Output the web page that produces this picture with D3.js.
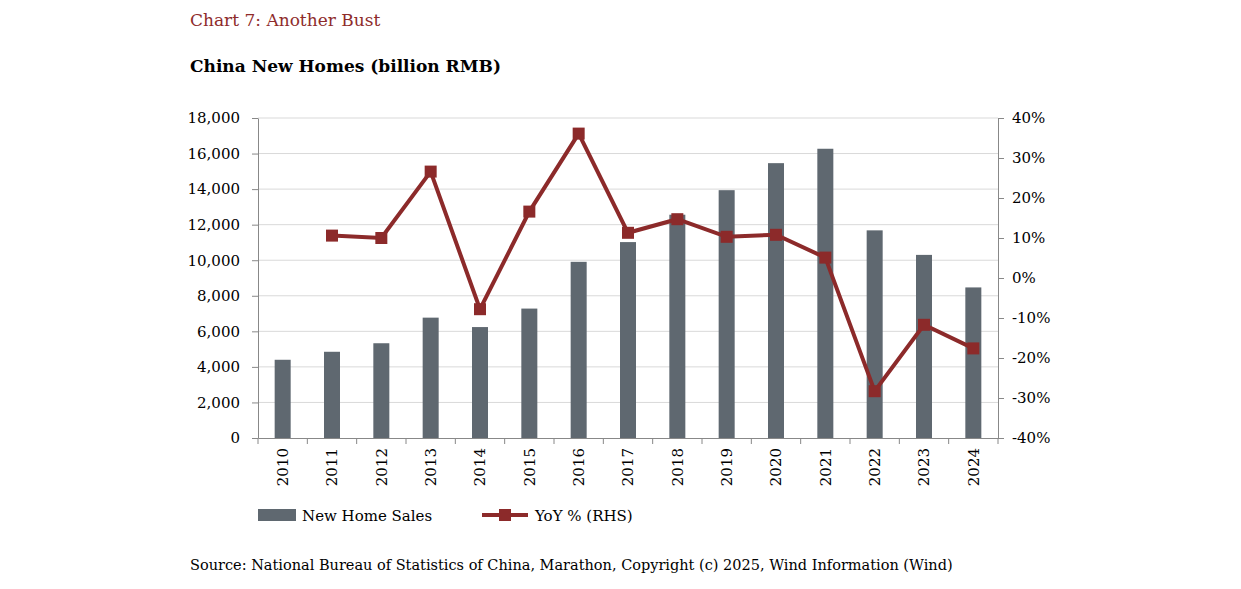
<!DOCTYPE html><html><head><meta charset="utf-8"><script src="https://cdn.jsdelivr.net/npm/d3@7"></script>
<style>body{margin:0;background:#fff}text{font-family:"DejaVu Serif",serif}</style></head><body>
<svg id="c" width="1241" height="589"></svg>
<script>
const years=["2010","2011","2012","2013","2014","2015","2016","2017","2018","2019","2020","2021","2022","2023","2024"];
const sales=[4400,4850,5330,6770,6240,7280,9910,11020,12560,13940,15460,16270,11680,10300,8470];
const yoy=[null,10.6,10.0,26.6,-7.8,16.6,36.1,11.3,14.7,10.3,10.8,5.1,-28.3,-11.7,-17.6];
const leftTicks=[0,2000,4000,6000,8000,10000,12000,14000,16000,18000];
const rightTicks=[-40,-30,-20,-10,0,10,20,30,40];
const svg=d3.select("#c");
const L=258,R=998,T=118,B=438;
const x=d3.scaleBand().domain(years).range([L,R]);
const y=d3.scaleLinear().domain([0,18000]).range([B,T]);
const y2=d3.scaleLinear().domain([-40,40]).range([B,T]);
const red="#8c2a2a",gray="#5f6870";
svg.append("text").attr("x",190).attr("y",26).attr("fill","#8e2b2b").attr("font-size",17).text("Chart 7: Another Bust");
svg.append("text").attr("x",190).attr("y",72).attr("font-size",17).attr("font-weight","bold").text("China New Homes (billion RMB)");
svg.append("g").selectAll("line").data(leftTicks.slice(1)).join("line").attr("x1",L).attr("x2",R).attr("y1",d=>y(d)).attr("y2",d=>y(d)).attr("stroke","#d9d9d9");
svg.append("g").selectAll("rect").data(sales).join("rect").attr("x",(d,i)=>x(years[i])+x.bandwidth()/2-8).attr("width",16).attr("y",d=>y(d)).attr("height",d=>B-y(d)).attr("fill",gray);
const ax=svg.append("g").attr("transform",`translate(${L},0)`).call(d3.axisLeft(y).tickValues(leftTicks).tickFormat(d3.format(",")).tickSizeOuter(0).tickPadding(12));
const ax2=svg.append("g").attr("transform",`translate(${R},0)`).call(d3.axisRight(y2).tickValues(rightTicks).tickFormat(d=>d+"%").tickSizeOuter(0).tickPadding(8));
const bx=svg.append("g").attr("transform",`translate(0,${B})`).call(d3.axisBottom(x).tickSize(0).tickSizeOuter(0));
[ax,ax2,bx].forEach(g=>{g.selectAll("text").attr("font-size",15).attr("fill","#000").style("font-family","DejaVu Serif");g.selectAll("line,path").attr("stroke","#888");});
bx.selectAll("text").attr("transform","rotate(-90)").attr("text-anchor","end").attr("x",-10).attr("y",0).attr("dy","0.35em");
svg.append("g").selectAll("line").data(years.concat(["end"])).join("line").attr("x1",(d,i)=>L+i*x.bandwidth()).attr("x2",(d,i)=>L+i*x.bandwidth()).attr("y1",B).attr("y2",B+6).attr("stroke","#888");
const pts=yoy.map((v,i)=>[v,i]).filter(d=>d[0]!==null);
svg.append("path").datum(pts).attr("fill","none").attr("stroke",red).attr("stroke-width",4).attr("d",d3.line().x(d=>x(years[d[1]])+x.bandwidth()/2).y(d=>y2(d[0])));
svg.append("g").selectAll("rect").data(pts).join("rect").attr("x",d=>x(years[d[1]])+x.bandwidth()/2-6).attr("y",d=>y2(d[0])-6).attr("width",12).attr("height",12).attr("fill",red);
svg.append("rect").attr("x",258).attr("y",509).attr("width",38).attr("height",12).attr("fill",gray);
svg.append("text").attr("x",302).attr("y",521).attr("font-size",15).text("New Home Sales");
svg.append("line").attr("x1",482).attr("x2",528).attr("y1",515).attr("y2",515).attr("stroke",red).attr("stroke-width",4);
svg.append("rect").attr("x",499).attr("y",509).attr("width",12).attr("height",12).attr("fill",red);
svg.append("text").attr("x",535).attr("y",521).attr("font-size",15).text("YoY % (RHS)");
svg.append("text").attr("x",190).attr("y",570).attr("font-size",14.5).text("Source: National Bureau of Statistics of China, Marathon, Copyright (c) 2025, Wind Information (Wind)");
</script></body></html>
